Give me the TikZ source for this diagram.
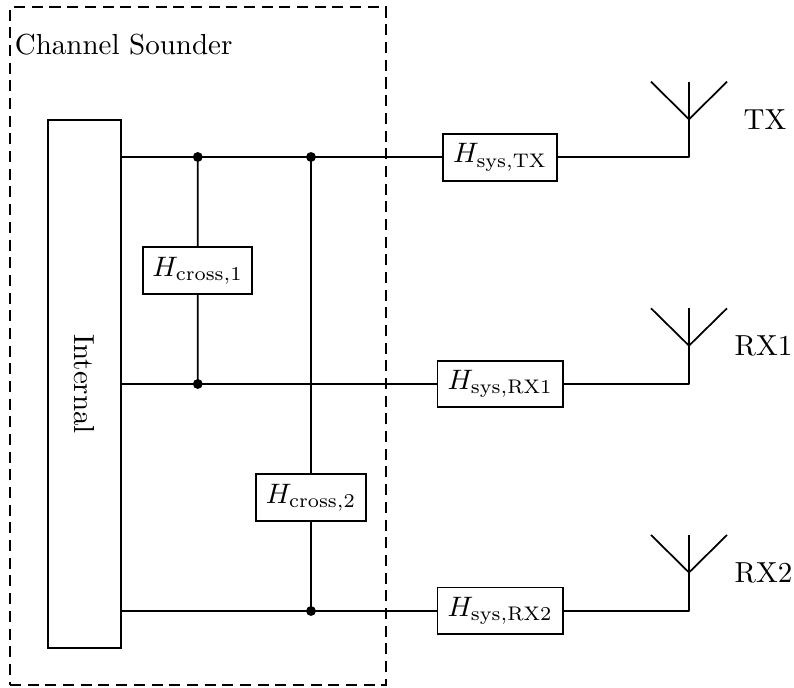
\documentclass[tikz,border=0pt]{standalone}
\newcommand{\blocktext}[1]{\scalebox{0.97}{$#1$}}
\begin{document}
\begin{tikzpicture}[x=0.345pt,y=-0.345pt,line width=0.6pt,
  block/.style={draw,fill=white,inner sep=0pt,minimum width=#1,minimum height=16.1pt},
  dotn/.style={circle,fill=black,inner sep=0pt,outer sep=0pt,minimum size=3.4pt},
  lbl/.style={inner sep=0pt}]
\useasboundingbox (0,0) rectangle (794,688);
\node[draw,dash pattern=on 3.8pt off 2.3pt,inner sep=0pt,minimum width=129.6pt,minimum height=234pt] (frame) at (197.9,346.2) {};
\node[lbl,anchor=west] (title) at (14,45) {Channel Sounder};
\node[draw,inner sep=0pt,minimum width=25.3pt,minimum height=182.2pt] (int) at (84.35,384) {};
\node[lbl,rotate=-90] (intl) at (84.35,384) {Internal};
\coordinate (o1) at (121,157);
\coordinate (o2) at (121,384);
\coordinate (o3) at (121,611);
\node[dotn] (d1) at (197.8,157) {};
\node[dotn] (d2) at (311,157) {};
\node[dotn] (d3) at (197.8,384) {};
\node[dotn] (d4) at (311,611) {};
\node[block=37.7pt] (hc1) at (197.7,270.7) {\blocktext{H_{\mathrm{cross},1}}};
\node[block=37.9pt] (hc2) at (311,497.5) {\blocktext{H_{\mathrm{cross},2}}};
\node[block=39.1pt] (ht) at (500,157.4) {\blocktext{H_{\mathrm{sys},\mathrm{TX}}}};
\node[block=43.3pt] (hr1) at (500.2,384) {\blocktext{H_{\mathrm{sys},\mathrm{RX1}}}};
\node[block=43.3pt] (hr2) at (500.2,610.8) {\blocktext{H_{\mathrm{sys},\mathrm{RX2}}}};
\draw (o1) -- (d1.center) -- (d2.center) -- (ht.west |- o1);
\draw (o2) -- (d3.center) -- (hr1.west |- o2);
\draw (o3) -- (d4.center) -- (hr2.west |- o3);
\draw (d1.center) -- (hc1);
\draw (hc1) -- (d3.center);
\draw (d2.center) -- (hc2);
\draw (hc2) -- (d4.center);
% antennas
\coordinate (a1) at (689,157); \coordinate (j1) at (689,119.3);
\coordinate (a2) at (689,384); \coordinate (j2) at (689,345.7);
\coordinate (a3) at (689,611); \coordinate (j3) at (689,572.5);
\draw[line join=round] (ht.east |- a1) -- (a1) -- (689,81.7);
\draw[line join=round] (hr1.east |- a2) -- (a2) -- (689,308.3);
\draw[line join=round] (hr2.east |- a3) -- (a3) -- (689,535);
\draw (651,81.7) -- (j1) -- (727,81.7);
\draw (651,308.3) -- (j2) -- (727,308.3);
\draw (651,535) -- (j3) -- (727,535);
\node[lbl] (tx) at (765,119.5) {TX};
\node[lbl] (rx1) at (763.5,346) {RX1};
\node[lbl] (rx2) at (763.5,572.5) {RX2};
\end{tikzpicture}
\end{document}
